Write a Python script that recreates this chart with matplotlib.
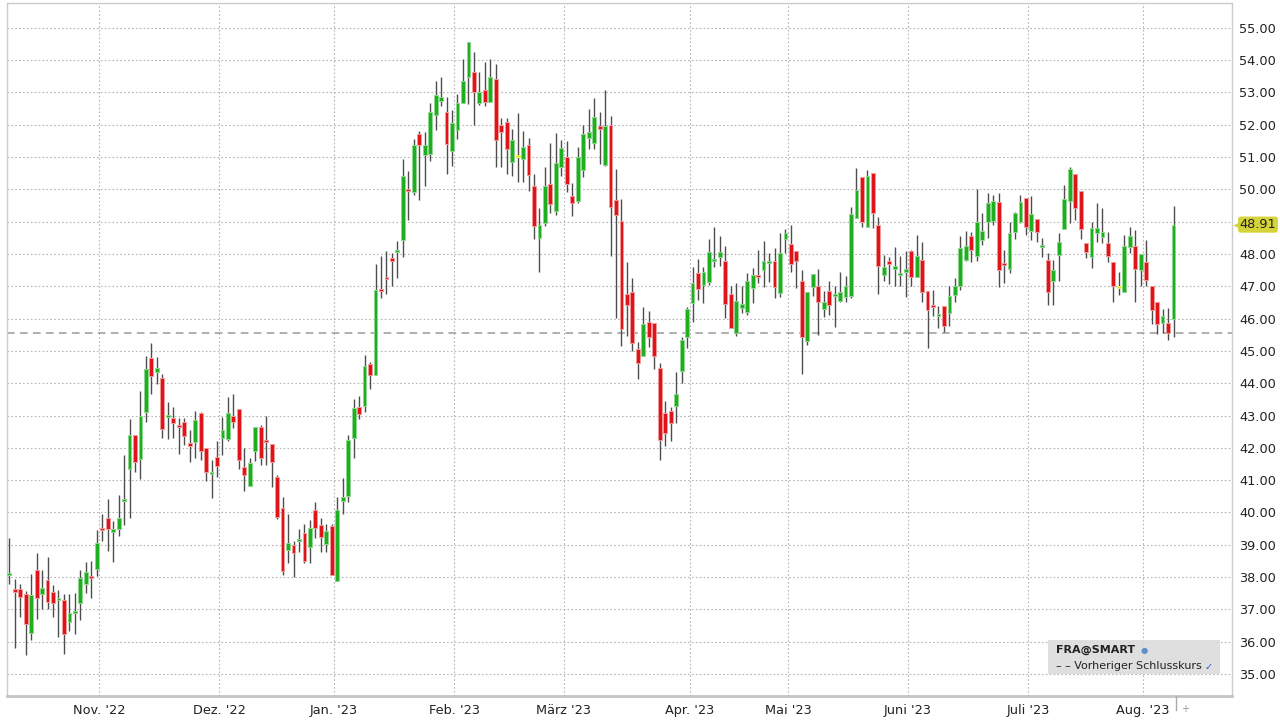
import numpy as np
import pandas as pd
import matplotlib
matplotlib.use('Agg')
import matplotlib.pyplot as plt
from matplotlib.patches import Rectangle
import matplotlib.transforms as mtransforms

# daily candles FRA@SMART, 07.10.2022 - 08.08.2023
opens = [38.09, 37.62, 37.64, 37.49, 36.26, 38.22, 37.47, 37.90, 37.54, 37.32,
         37.29, 36.61, 36.92, 37.21, 37.80, 38.04, 38.24, 39.52, 39.84, 39.40,
         39.50, 40.38, 41.34, 42.39, 41.67, 43.11, 44.79, 44.35, 44.15, 43.00,
         42.93, 42.72, 42.81, 42.16, 42.19, 43.09, 41.99, 41.23, 41.73, 42.32,
         42.29, 42.99, 43.20, 41.42, 40.82, 41.91, 42.64, 42.25, 42.12, 41.11,
         40.15, 38.85, 39.00, 39.15, 39.38, 38.93, 40.08, 39.62, 39.03, 39.59,
         37.87, 40.37, 40.52, 42.30, 43.25, 43.30, 44.60, 44.26, 46.92, 47.28,
         47.88, 48.08, 48.43, 50.02, 49.92, 51.70, 51.08, 51.11, 52.29, 52.74,
         52.40, 51.19, 51.84, 52.66, 53.48, 53.64, 52.69, 53.08, 52.72, 53.41,
         51.98, 52.09, 50.84, 51.02, 50.94, 51.37, 50.11, 48.49, 48.96, 50.16,
         49.34, 50.70, 51.01, 49.80, 49.65, 50.61, 51.59, 51.45, 51.95, 50.76,
         51.99, 49.67, 49.03, 46.76, 46.84, 45.06, 44.83, 45.91, 45.86, 44.48,
         43.09, 43.15, 43.30, 44.39, 45.44, 46.49, 47.40, 47.04, 47.13, 47.82,
         47.92, 47.78, 46.76, 45.55, 46.33, 46.22, 46.94, 47.37, 47.51, 47.74,
         47.78, 46.80, 48.47, 48.31, 48.09, 47.15, 45.32, 46.98, 47.00, 46.31,
         46.86, 46.74, 46.56, 46.67, 46.69, 49.13, 50.39, 48.85, 50.51, 48.90,
         47.36, 47.79, 47.53, 47.39, 47.43, 48.08, 47.30, 47.82, 46.86, 46.42,
         46.10, 46.38, 46.19, 46.74, 47.00, 47.82, 48.56, 47.95, 48.44, 49.00,
         49.02, 49.60, 47.74, 47.53, 48.69, 49.00, 49.74, 48.72, 49.07, 48.24,
         47.82, 47.15, 47.97, 48.77, 49.65, 50.47, 49.95, 48.35, 47.92, 48.64,
         48.54, 48.35, 47.74, 46.98, 46.81, 48.21, 48.25, 47.51, 47.74, 47.00,
         46.53, 45.86, 45.86, 45.99]
highs = [39.20, 37.95, 37.80, 37.57, 38.11, 38.76, 38.22, 38.63, 37.75, 37.60,
         37.49, 37.49, 37.52, 38.22, 38.48, 38.50, 39.45, 39.94, 40.41, 39.74,
         40.53, 41.78, 42.88, 42.39, 43.75, 44.83, 45.24, 44.81, 44.28, 43.43,
         43.28, 42.91, 42.91, 42.54, 43.14, 43.10, 42.00, 41.63, 42.20, 42.97,
         43.59, 43.67, 43.20, 41.99, 41.68, 42.64, 42.71, 42.99, 42.12, 41.16,
         40.49, 39.95, 39.13, 39.48, 39.64, 39.77, 40.34, 39.82, 39.64, 39.65,
         40.49, 41.06, 42.40, 43.51, 43.60, 44.88, 44.67, 47.69, 47.93, 48.09,
         48.02, 48.40, 50.95, 50.57, 51.57, 51.81, 51.79, 52.69, 53.36, 53.49,
         52.87, 52.46, 52.95, 54.05, 54.57, 54.26, 53.64, 53.95, 54.05, 53.88,
         52.22, 52.22, 51.87, 52.38, 51.81, 51.58, 50.47, 49.41, 50.68, 51.43,
         51.76, 51.53, 51.51, 50.20, 51.30, 51.99, 52.48, 52.82, 52.40, 53.08,
         52.28, 50.63, 49.70, 47.76, 47.25, 45.29, 46.37, 46.24, 45.86, 44.62,
         43.45, 43.28, 44.36, 45.44, 46.35, 47.61, 47.84, 47.61, 48.46, 48.85,
         48.57, 48.26, 47.01, 47.09, 47.01, 47.40, 47.56, 48.14, 48.40, 48.02,
         48.18, 48.66, 48.76, 48.90, 48.09, 47.51, 46.84, 47.38, 47.54, 46.86,
         47.15, 47.02, 47.43, 47.33, 49.47, 50.65, 50.39, 50.60, 50.51, 49.16,
         47.97, 47.92, 48.21, 47.95, 48.08, 48.13, 48.59, 48.38, 46.86, 46.89,
         46.40, 46.38, 47.00, 47.25, 48.56, 48.71, 48.69, 50.00, 49.28, 49.88,
         49.83, 49.88, 48.11, 49.00, 49.31, 49.83, 49.74, 49.79, 49.07, 48.49,
         48.02, 47.82, 48.64, 50.13, 50.68, 50.47, 49.95, 48.35, 49.00, 49.59,
         49.41, 48.69, 47.74, 47.43, 48.59, 48.83, 48.74, 48.00, 48.44, 47.00,
         46.53, 46.30, 46.33, 49.49]
lows = [37.78, 35.82, 36.77, 35.58, 36.05, 36.69, 37.00, 37.02, 36.78, 36.16,
        35.61, 36.33, 36.23, 36.67, 37.52, 37.36, 38.03, 39.12, 38.81, 38.47,
        39.27, 39.60, 39.84, 41.25, 41.03, 42.80, 43.66, 43.99, 42.32, 42.27,
        42.32, 41.80, 42.09, 41.57, 41.70, 41.61, 40.99, 40.46, 41.10, 41.78,
        42.20, 42.61, 41.34, 40.65, 40.82, 41.58, 41.47, 41.47, 40.78, 39.79,
        38.05, 38.43, 37.99, 38.79, 38.43, 38.43, 39.21, 38.79, 38.79, 38.05,
        37.87, 39.96, 40.31, 41.68, 42.90, 43.10, 43.81, 44.26, 46.64, 46.77,
        47.00, 47.26, 47.91, 49.05, 49.84, 49.67, 50.10, 50.88, 51.84, 52.58,
        50.49, 50.74, 51.55, 52.66, 52.63, 51.98, 52.60, 52.58, 52.72, 50.70,
        50.70, 50.49, 50.42, 50.22, 50.24, 49.96, 48.48, 47.45, 48.88, 49.27,
        49.21, 50.42, 49.93, 49.19, 49.58, 50.37, 51.25, 51.25, 50.78, 50.73,
        47.95, 46.01, 45.16, 45.47, 45.00, 44.13, 44.83, 45.13, 44.43, 41.61,
        42.06, 42.20, 42.78, 44.00, 45.10, 45.91, 46.58, 46.49, 47.03, 47.61,
        47.63, 46.03, 45.70, 45.46, 46.16, 46.11, 46.47, 47.09, 46.99, 47.14,
        46.63, 46.68, 48.02, 47.45, 46.94, 44.29, 45.17, 46.69, 45.48, 46.05,
        46.12, 45.74, 46.53, 46.50, 46.64, 49.13, 48.83, 48.85, 48.82, 46.77,
        47.18, 47.08, 47.00, 47.00, 46.67, 47.00, 47.30, 46.53, 45.09, 46.07,
        45.71, 45.58, 45.78, 46.53, 46.89, 47.77, 47.74, 47.77, 48.28, 48.49,
        48.90, 46.98, 47.10, 47.41, 48.46, 48.95, 48.59, 48.42, 48.38, 47.90,
        46.41, 46.43, 47.18, 48.77, 48.95, 49.05, 48.46, 47.87, 47.56, 48.38,
        48.33, 47.74, 46.50, 46.74, 46.81, 48.02, 46.53, 47.00, 47.00, 45.83,
        45.52, 45.56, 45.35, 45.43]
closes = [38.11, 37.54, 37.38, 36.54, 37.44, 37.36, 37.65, 37.23, 37.21, 37.36,
          36.23, 36.90, 36.96, 37.98, 38.17, 37.99, 39.07, 39.48, 39.48, 39.48,
          39.84, 40.41, 42.41, 41.57, 42.99, 44.43, 44.23, 44.48, 42.57, 43.02,
          42.76, 42.68, 42.37, 42.06, 42.85, 41.89, 41.25, 41.26, 41.44, 42.56,
          43.09, 42.81, 41.61, 41.16, 41.53, 42.64, 41.70, 42.20, 41.56, 39.85,
          38.20, 39.05, 38.74, 39.18, 38.51, 39.52, 39.52, 39.23, 39.43, 38.05,
          40.08, 40.49, 42.25, 43.23, 43.06, 44.54, 44.26, 46.90, 46.88, 47.22,
          47.77, 48.11, 50.43, 49.98, 51.36, 51.39, 51.39, 52.40, 52.91, 52.86,
          51.41, 52.05, 52.69, 53.36, 54.57, 53.02, 53.00, 52.72, 53.49, 51.53,
          51.78, 51.26, 51.53, 51.02, 51.30, 50.44, 48.88, 48.91, 50.11, 49.55,
          50.81, 51.27, 50.16, 49.58, 50.99, 51.71, 51.78, 52.25, 51.87, 51.97,
          49.46, 49.21, 45.68, 46.42, 45.25, 44.63, 45.83, 45.42, 44.85, 42.23,
          42.47, 42.78, 43.67, 45.34, 46.30, 47.09, 46.91, 47.45, 48.05, 47.86,
          48.06, 46.46, 45.70, 46.55, 46.44, 47.16, 47.35, 47.33, 47.79, 47.77,
          46.99, 48.03, 48.64, 47.70, 47.79, 45.43, 46.84, 47.38, 46.51, 46.53,
          46.43, 46.77, 46.81, 47.02, 49.24, 49.98, 48.98, 50.42, 49.26, 47.63,
          47.59, 47.70, 47.64, 47.41, 47.55, 47.30, 47.94, 46.81, 46.28, 46.38,
          46.14, 45.76, 46.69, 47.00, 48.18, 48.26, 48.11, 48.98, 48.72, 49.57,
          49.64, 47.51, 47.70, 48.66, 49.28, 49.60, 48.85, 49.24, 48.69, 48.28,
          46.84, 47.51, 48.38, 49.69, 50.62, 49.44, 48.77, 48.05, 48.80, 48.80,
          48.69, 47.94, 47.00, 46.98, 48.25, 48.56, 47.53, 48.00, 47.20, 46.26,
          45.83, 46.07, 45.56, 48.91]

prev_close = 45.55
month_labels = ["Nov. '22", "Dez. '22", "Jan. '23", "Feb. '23", "März '23",
                "Apr. '23", "Mai '23", "Juni '23", "Juli '23", "Aug. '23"]
holidays = ['2022-12-26', '2023-04-07', '2023-04-10', '2023-05-01']

o = np.array(opens)
h = np.array(highs)
l = np.array(lows)
c = np.array(closes)
n = len(c)
x = np.arange(n)
dates = pd.bdate_range('2022-10-07', periods=n, freq='C', holidays=holidays)

# month boundaries (grid + labels sit between last and first trading day)
month_idx = [i for i in range(1, n) if dates[i].month != dates[i - 1].month]
month_pos = [i - 0.55 for i in month_idx]

GREEN = '#1fae1f'
RED = '#e01418'
YELLOW = '#e8e800'
body_col = [GREEN if cc > oo else (RED if cc < oo else YELLOW) for oo, cc in zip(o, c)]
edge_col = ['#8fd88f' if cc > oo else ('#f29a9a' if cc < oo else '#f0f060') for oo, cc in zip(o, c)]

fig = plt.figure(figsize=(12.8, 7.2), dpi=100)
ax = fig.add_axes([7 / 1280, 24 / 720, 1225 / 1280, 693 / 720])

# grid
for p in range(35, 56):
    ax.axhline(p, color='#b5b5b5', lw=0.8, ls=(0, (1.5, 2)), zorder=0)
for mp in month_pos:
    ax.axvline(mp, color='#b5b5b5', lw=0.8, ls=(0, (1.5, 2)), zorder=0)

ax.axhline(prev_close, color='#9a9a9a', lw=1.1, ls=(0, (5, 3.5)), zorder=1)

# candles
ax.vlines(x, l, h, color='#4d4d4d', lw=1, zorder=2)
heights = np.maximum(np.abs(c - o), 0.06)
bottoms = np.minimum(o, c) - np.where(np.abs(c - o) < 0.06, 0.03, 0)
ax.bar(x, heights, bottom=bottoms, width=0.7, color=body_col,
       edgecolor=edge_col, linewidth=0.7, zorder=3)

ax.set_xlim(-0.42, 223.7)
ax.set_ylim(34.32, 55.77)

yt = [p for p in range(35, 56) if p != 49]
ax.yaxis.tick_right()
ax.set_yticks(yt)
ax.set_yticklabels([f'{p:.2f}' for p in yt], fontsize=9.3, color='#222222')
ax.set_xticks(month_pos)
ax.set_xticklabels(month_labels, fontsize=9.3, color='#222222')
ax.tick_params(axis='both', length=0)
ax.tick_params(axis='y', pad=5)
ax.tick_params(axis='x', pad=6)

for s in ['top', 'left', 'right']:
    ax.spines[s].set_color('#cccccc')
    ax.spines[s].set_linewidth(1)
ax.spines['bottom'].set_color('#c4c4c4')
ax.spines['bottom'].set_linewidth(2)

# last price marker
trans = mtransforms.blended_transform_factory(ax.transAxes, ax.transData)
ax.text(1.0062, c[-1], f'{c[-1]:.2f}', transform=trans, fontsize=9.3,
        color='#222222', va='center', ha='left', zorder=5, clip_on=False,
        bbox=dict(boxstyle='round,pad=0.12,rounding_size=0.2', fc='#d4d43a', ec='none'))
ax.plot([1.0035], [c[-1]], marker='<', ms=5, color='#d4d43a', mec='none',
        transform=trans, clip_on=False, zorder=5)

# small marker under the last candle
fig.lines.append(plt.Line2D([1176 / 1280, 1176 / 1280], [10 / 720, 24 / 720],
                            color='#aaaaaa', lw=1, transform=fig.transFigure))
fig.text(1181 / 1280, 1 - 709 / 720, '+', fontsize=7, color='#999999',
         ha='left', va='center')

# legend box
fig.patches.append(Rectangle((1048 / 1280, 1 - 674 / 720), 172 / 1280, 34 / 720,
                             transform=fig.transFigure, fc='#dcdcdc', ec='none',
                             alpha=0.9, zorder=10))
fig.text(1056 / 1280, 1 - 650 / 720, 'FRA@SMART', fontsize=8, fontweight='bold',
         color='#222222', va='center', zorder=11)
fig.text(1141 / 1280, 1 - 650 / 720, '\u25cf', fontsize=6, color='#5f8fc8',
         va='center', zorder=11)
fig.text(1056 / 1280, 1 - 666 / 720, '\u2013 \u2013 Vorheriger Schlusskurs', fontsize=8,
         color='#222222', va='center', zorder=11)
fig.text(1205 / 1280, 1 - 667 / 720, '\u2713', fontsize=7, color='#2060d0',
         va='center', zorder=11)

fig.savefig('out.png', dpi=100)
